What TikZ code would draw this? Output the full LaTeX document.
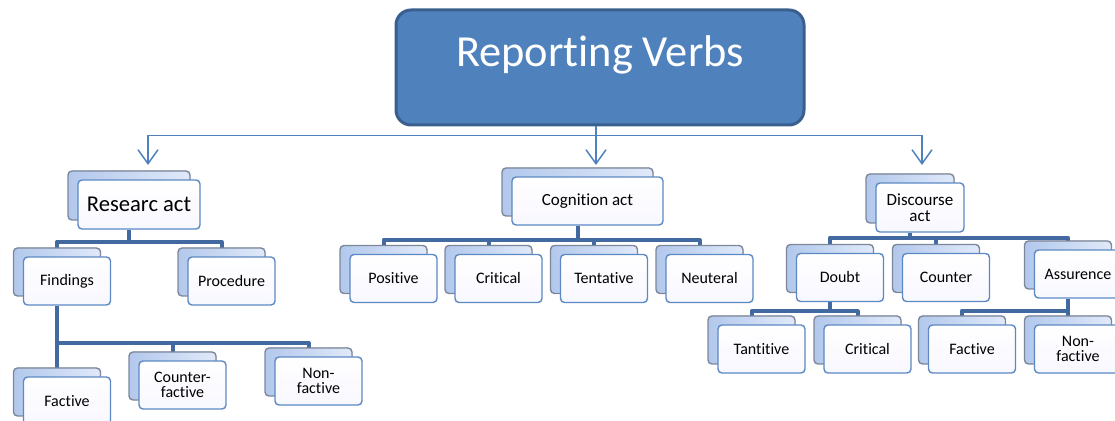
\documentclass[tikz,border=0pt]{standalone}
\usepackage{fontspec}
\setmainfont{Carlito}[Ligatures=NoCommon]
\usetikzlibrary{shadows,arrows.meta,backgrounds}
\definecolor{hdblue}{RGB}{79,129,189}
\definecolor{hdedge}{RGB}{58,95,142}
\definecolor{busblue}{RGB}{66,106,160}
\definecolor{leafedge}{RGB}{92,136,196}
\definecolor{backedge}{RGB}{125,135,155}
\definecolor{backdark}{RGB}{178,200,236}
\definecolor{backlight}{RGB}{224,233,249}

\begin{document}
\begin{tikzpicture}[x=.5pt,y=-.5pt,
    leafbox/.style={draw=leafedge,line width=.7pt,rounded corners=2pt,
      top color=white,bottom color=blue!3,text=black,
      minimum width=43.5pt,minimum height=24pt,inner sep=1pt,align=center,
      font=\fontsize{8}{7.8}\selectfont,
      copy shadow={shadow xshift=-5pt,shadow yshift=4.5pt,draw=backedge,
        left color=backdark,right color=backlight}},
    branchbox/.style={leafbox,font=\fontsize{8.5}{8}\selectfont},
    busline/.style={draw=busblue,line width=2pt,line join=round},
    feedline/.style={draw=hdblue,line width=.75pt},
    feedarrow/.style={-{Straight Barb[length=7pt,width=10pt]}}]
  \useasboundingbox (0,0) rectangle (1115,421);
  \node[draw=hdedge,line width=1.5pt,fill=hdblue,rounded corners=7.5pt,
    minimum width=204pt,minimum height=57.5pt,text=white,
    font=\fontsize{22.2}{24}\selectfont,text height=12pt,text depth=13pt]
    (verbs) at (600,67.5) {Reporting Verbs};

  \node[branchbox,minimum width=61pt,minimum height=24.5pt,
    font=\fontsize{11.3}{12}\selectfont] (research) at (139,204.5) {Researc act};
  \node[branchbox,minimum width=75.5pt] (cognition) at (587.5,201) {Cognition act};
  \node[branchbox,minimum width=44pt,minimum height=24.5pt] (discourse) at (920,207.5) {Discourse\\act};

  \node[leafbox] (findings) at (67,281) {Findings};
  \node[leafbox] (procedure) at (231.5,281) {Procedure};
  \node[leafbox] (factiveA) at (67,401) {Factive};
  \node[leafbox] (counterA) at (182.5,385) {Counter-\\factive};
  \node[leafbox] (nonA) at (318.5,381) {Non-\\factive};

  \node[leafbox] (positive) at (393.5,278.5) {Positive};
  \node[leafbox] (criticalA) at (498.5,278.5) {Critical};
  \node[leafbox] (tentative) at (604,278.5) {Tentative};
  \node[leafbox] (neuteral) at (709.5,278.5) {Neuteral};

  \node[leafbox] (doubt) at (840,277.5) {Doubt};
  \node[leafbox] (counterB) at (946,277.5) {Counter};
  \node[leafbox] (assurence) at (1078,274) {Assurence};
  \node[leafbox] (tantitive) at (761.5,349) {Tantitive};
  \node[leafbox] (criticalB) at (867.5,349) {Critical};
  \node[leafbox] (factiveB) at (972,349) {Factive};
  \node[leafbox] (nonB) at (1078,349) {Non-\\factive};

  \coordinate (resin) at (148,165);
  \coordinate (cogin) at (596,165);
  \coordinate (disin) at (922,165);
  \draw[feedline] ([xshift=-2pt]verbs.south) -- ++(0,9) coordinate (hub);
  \draw[feedline,feedarrow] (hub) -| (resin);
  \draw[feedline,feedarrow] (hub) -- (cogin);
  \draw[feedline,feedarrow] (hub) -| (disin);

  \begin{scope}[on background layer]
    \draw[busline] ([xshift=-5pt]research.south) -- ++(0,12) coordinate (rj);
    \foreach \n in {findings,procedure}
      \draw[busline] (rj) -| ([xshift=-5pt]\n.north);
    \draw[busline] ([xshift=-5pt]findings.south) -- ++(0,37) coordinate (fj);
    \foreach \n in {factiveA,counterA,nonA}
      \draw[busline] (fj) -| ([xshift=-5pt]\n.north);
    \draw[busline] ([xshift=-5pt]cognition.south) -- ++(0,14) coordinate (cj);
    \foreach \n in {positive,criticalA,tentative,neuteral}
      \draw[busline] (cj) -| ([xshift=-5pt]\n.north);
    \draw[busline] ([xshift=-5pt]discourse.south) -- ++(0,5) coordinate (dj);
    \foreach \n in {doubt,counterB,assurence}
      \draw[busline] (dj) -| ([xshift=-5pt]\n.north);
    \draw[busline] ([xshift=-5pt]doubt.south) -- ++(0,9) coordinate (oj);
    \foreach \n in {tantitive,criticalB}
      \draw[busline] (oj) -| ([xshift=-5pt]\n.north);
    \draw[busline] ([xshift=-5pt]assurence.south) -- ++(0,12) coordinate (aj);
    \foreach \n in {factiveB,nonB}
      \draw[busline] (aj) -| ([xshift=-5pt]\n.north);
  \end{scope}
\end{tikzpicture}
\end{document}
